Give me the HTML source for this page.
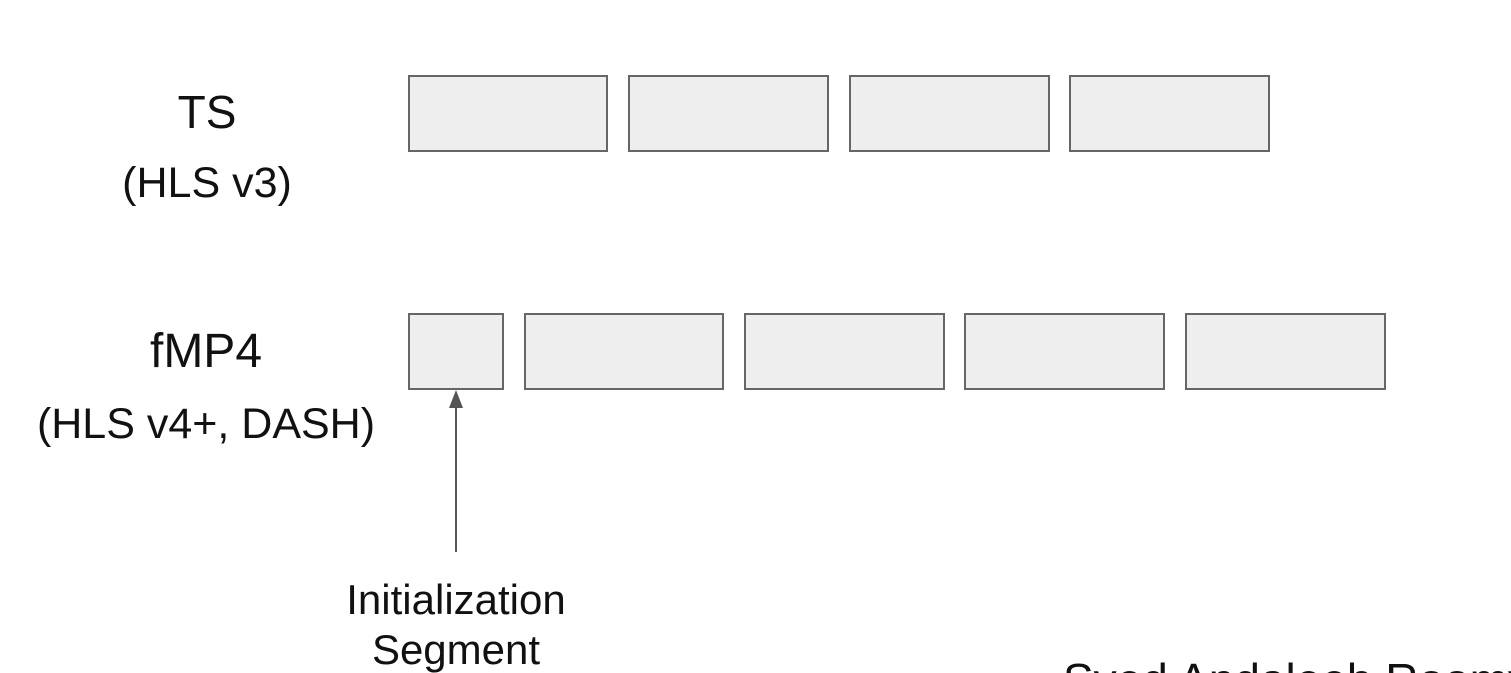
<!DOCTYPE html>
<html><head><meta charset="utf-8"><style>
html,body{margin:0;padding:0;background:#fff;}
svg{display:block;}
text{font-family:"Liberation Sans",Arial,sans-serif;fill:#111;}
</style></head><body>
<svg width="1511" height="673" viewBox="0 0 1511 673" xmlns="http://www.w3.org/2000/svg">
<g fill="#eeeeef" stroke="#666" stroke-width="2">
<rect x="409" y="76" width="198" height="75"/>
<rect x="629" y="76" width="199" height="75"/>
<rect x="850" y="76" width="199" height="75"/>
<rect x="1070" y="76" width="199" height="75"/>
<rect x="409" y="314" width="94" height="75"/>
<rect x="525" y="314" width="198" height="75"/>
<rect x="745" y="314" width="199" height="75"/>
<rect x="965" y="314" width="199" height="75"/>
<rect x="1186" y="314" width="199" height="75"/>
</g>
<line x1="456" y1="552" x2="456" y2="404" stroke="#555" stroke-width="2"/>
<polygon points="456,390 449,408 463,408" fill="#555"/>
<g text-anchor="middle">
<text x="207" y="128" font-size="46">TS</text>
<text x="207" y="197" font-size="43">(HLS v3)</text>
<text x="206" y="367" font-size="48">fMP4</text>
<text x="206" y="438" font-size="43">(HLS v4+, DASH)</text>
<text x="456" y="614" font-size="42">Initialization</text>
<text x="456" y="664" font-size="42">Segment</text>
</g>
<text x="1063" y="696" font-size="46">Syed Andaleeb Roomy</text>
</svg>
</body></html>
